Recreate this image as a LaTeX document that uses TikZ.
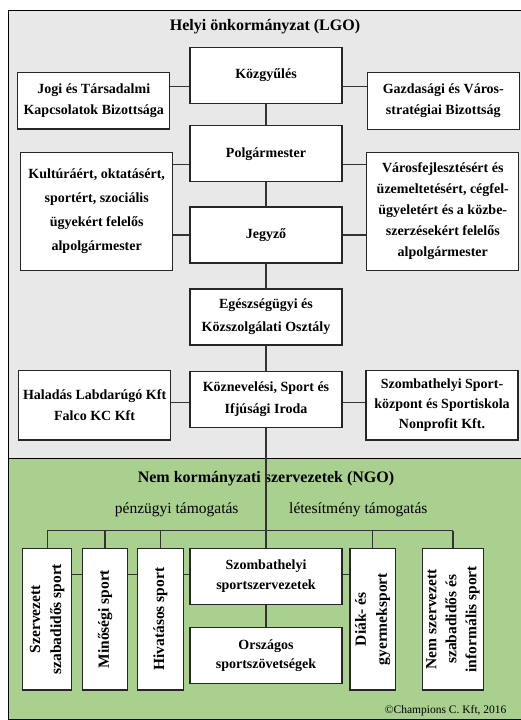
\documentclass[tikz,border=0pt]{standalone}
\usepackage{fontspec}
\setmainfont{Liberation Serif}
\definecolor{lgo}{RGB}{232,232,232}
\definecolor{ngo}{RGB}{169,208,142}

\begin{document}
\begin{tikzpicture}[x=1pt, y=-1pt,
  main node/.style={rectangle, draw=black!85, fill=white, line width=1.2pt, minimum width=152pt, minimum height=56pt, inner sep=2pt, align=center, font=\bfseries\fontsize{14}{21}\selectfont},
  vert node/.style={main node, rotate=90, minimum width=141.7pt, font=\bfseries\fontsize{15.5}{21}\selectfont},
  title node/.style={font=\bfseries\fontsize{16}{19}\selectfont},
  label node/.style={font=\fontsize{15.5}{18}\selectfont}]

  \useasboundingbox (0,0) rectangle (520,720);
  \draw[fill=lgo, line width=1pt] (8,10) rectangle (522,458.3);
  \draw[fill=ngo, line width=1pt] (8,458.3) rectangle (522,719.5);

  % local government
  \node[title node] (t0) at (265,27) {Helyi önkormányzat (LGO)};
  \node[main node] (n0) at (266,75.3) {Közgyűlés};
  \node[main node, minimum height=56.7pt] (n1) at (93.8,100.7) {Jogi és Társadalmi\\Kapcsolatok Bizottsága};
  \node[main node, minimum height=56.7pt] (n2) at (443.3,101) {Gazdasági és Város-\\stratégiai Bizottság};
  \node[main node] (n3) at (266,153.7) {Polgármester};
  \node[main node, minimum height=118.4pt, font=\bfseries\fontsize{14}{24}\selectfont] (n4) at (96.7,211.5) {Kultúráért, oktatásért,\\sportért, szociális\\ügyekért felelős\\alpolgármester};
  \node[main node, minimum height=118.4pt] (n5) at (442.8,211.5) {Városfejlesztésért és\\üzemeltetésért, cégfel-\\ügyeletért és a közbe-\\szerzésekért felelős\\alpolgármester};
  \node[main node] (n6) at (266,235) {Jegyző};
  \node[main node, font=\bfseries\fontsize{14}{23}\selectfont] (n7) at (266,317) {Egészségügyi és\\Közszolgálati Osztály};
  \node[main node, font=\bfseries\fontsize{14}{22.5}\selectfont] (n8) at (266,399.2) {Köznevelési, Sport és\\Ifjúsági Iroda};
  \node[main node, minimum height=69.3pt] (n9) at (94.6,405.3) {Haladás Labdarúgó Kft\\Falco KC Kft};
  \node[main node, minimum height=69.3pt, font=\bfseries\fontsize{14}{20}\selectfont] (n10) at (442,405.3) {Szombathelyi Sport-\\központ és Sportiskola\\Nonprofit Kft.};

  % non-governmental organisations
  \node[title node] (t1) at (266,478.3) {Nem kormányzati szervezetek (NGO)};
  \node[label node] (l0) at (176.7,510) {pénzügyi támogatás};
  \node[label node] (l1) at (358.3,510) {létesítmény támogatás};
  \node[vert node, minimum height=49pt] (n11) at (47.2,619.2) {Szervezett\\szabadidős sport};
  \node[vert node, minimum height=45.4pt] (n12) at (105,619.2) {Minőségi sport};
  \node[vert node, minimum height=45.6pt] (n13) at (160.5,619.2) {Hivatásos sport};
  \node[main node, font=\bfseries\fontsize{14}{20}\selectfont] (n14) at (266,576.3) {Szombathelyi\\sportszervezetek};
  \node[main node, font=\bfseries\fontsize{14}{19}\selectfont] (n15) at (266,655.3) {Országos\\sportszövetségek};
  \node[vert node, minimum height=45.7pt] (n16) at (372.8,619.2) {Diák- és\\gyermeksport};
  \node[vert node, minimum height=60.6pt, font=\bfseries\fontsize{15.5}{20}\selectfont] (n17) at (453,619.2) {Nem szervezett\\szabadidős és\\informális sport};
  \node[anchor=east, font=\fontsize{11.5}{14}\selectfont] (cr) at (510,711) {©Champions C. Kft, 2016};

  \coordinate (c0) at (266,86.7);
  \coordinate (c1) at (266,164.5);
  \coordinate (c2) at (266,402.5);
  \coordinate (c3) at (266,530.7);
  \coordinate (c4) at (266,574.3);

  \path[line width=1.2pt, draw=black!80]
  (n0) edge (n3)
  (n3) edge (n6)
  (n6) edge (n7)
  (n7) edge (n8)
  (n8) edge (n14)
  (n14) edge (n15)
  (n1.east |- c0) edge (n0.west |- c0)
  (n0.east |- c0) edge (n2.west |- c0)
  (n4.east |- c1) edge (n3.west |- c1)
  (n3.east |- c1) edge (n5.west |- c1)
  (n4.east |- n6) edge (n6.west)
  (n6.east) edge (n5.west |- n6)
  (n9.east |- c2) edge (n8.west |- c2)
  (n8.east |- c2) edge (n10.west |- c2)
  (n11 |- c3) edge (n17 |- c3)
  (n11 |- c3) edge (n11)
  (n12 |- c3) edge (n12)
  (n13 |- c3) edge (n13)
  (n16 |- c3) edge (n16)
  (n17 |- c3) edge (n17)
  (n11.south |- c4) edge (n12.north |- c4)
  (n12.south |- c4) edge (n13.north |- c4)
  (n13.south |- c4) edge (n14.west |- c4)
  (n14.east |- c4) edge (n16.north |- c4);
\end{tikzpicture}
\end{document}
